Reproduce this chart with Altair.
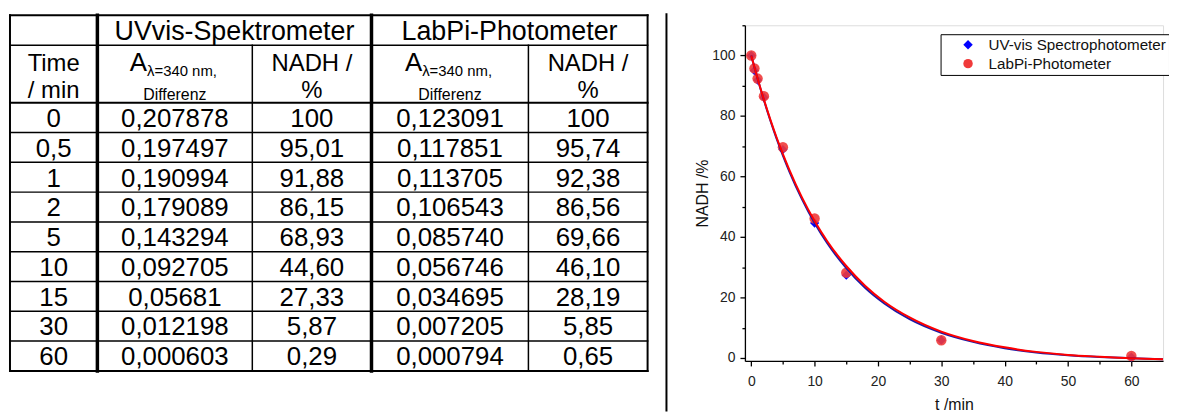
import altair as alt
import pandas as pd

# ---------------- data ----------------
times_lbl = ["0", "0,5", "1", "2", "5", "10", "15", "30", "60"]
times = [0, 0.5, 1, 2, 5, 10, 15, 30, 60]
uv_abs = ["0,207878", "0,197497", "0,190994", "0,179089", "0,143294",
          "0,092705", "0,05681", "0,012198", "0,000603"]
uv_nadh = [100, 95.01, 91.88, 86.15, 68.93, 44.60, 27.33, 5.87, 0.29]
uv_nadh_lbl = ["100", "95,01", "91,88", "86,15", "68,93", "44,60", "27,33", "5,87", "0,29"]
lab_abs = ["0,123091", "0,117851", "0,113705", "0,106543", "0,085740",
           "0,056746", "0,034695", "0,007205", "0,000794"]
lab_nadh = [100, 95.74, 92.38, 86.56, 69.66, 46.10, 28.19, 5.85, 0.65]
lab_nadh_lbl = ["100", "95,74", "92,38", "86,56", "69,66", "46,10", "28,19", "5,85", "0,65"]

# fitted curves
fit_t = [0, 1, 2, 3, 4, 5, 6, 8, 10, 12, 15, 18, 21, 25, 30, 35, 40, 45, 50, 55, 60, 65]
fit_uv = [100.0, 92.3, 85.2, 78.6, 72.5, 66.9, 61.7, 52.5, 44.6, 37.9, 29.7, 23.1, 18.0,
          12.8, 8.3, 5.3, 3.2, 1.8, 0.9, 0.3, -0.1, -0.4]
fit_lab = [100.0, 92.4, 85.4, 78.9, 72.9, 67.4, 62.3, 53.1, 45.3, 38.6, 30.4, 23.8, 18.6,
           13.4, 8.7, 5.6, 3.5, 2.0, 1.0, 0.4, -0.1, -0.4]

series_names = ["UV-vis Spectrophotometer", "LabPi-Photometer"]
group_titles = ["UVvis-Spektrometer", "LabPi-Photometer"]
head_time = ["Time", "/ min"]
head_nadh = ["NADH /", "%"]
head_abs_main = "A"
head_abs_sub = "\u03bb=340 nm,"
head_abs_sub2 = "Differenz"

# ---------------- layout ----------------
FONT = "Liberation Sans"
PLOT_X0, PLOT_Y0, PLOT_W, PLOT_H = 750, 24, 421, 338
COL = [10, 98, 254, 374, 532, 652]
DIV_X = 671
ROW0, ROW1, ROW2 = 14, 44, 102
ROW_H = 30
row_edges = [ROW2 + ROW_H * i for i in range(10)]
BOTTOM = row_edges[-1]
FS = 26
HS = 24
cols_c = [(COL[i] + COL[i + 1]) / 2 for i in range(5)]
row_c = [(row_edges[i] + row_edges[i + 1]) / 2 for i in range(9)]

tx = alt.Scale(domain=[PLOT_X0, PLOT_X0 + PLOT_W], nice=False, zero=False)
ty = alt.Scale(domain=[PLOT_Y0, PLOT_Y0 + PLOT_H], nice=False, zero=False, reverse=True)

# table grid lines
segs = []
def seg(x1, y1, x2, y2, w):
    segs.append(dict(x=x1, y=y1, x2=x2, y2=y2, w=w))

seg(COL[0], ROW0, COL[0], BOTTOM, 2)
seg(COL[1], ROW0, COL[1], BOTTOM, 3.5)
seg(COL[2], ROW1, COL[2], BOTTOM, 1.5)
seg(COL[3], ROW0, COL[3], BOTTOM, 3.5)
seg(COL[4], ROW1, COL[4], BOTTOM, 1.5)
seg(COL[5], ROW0, COL[5], BOTTOM, 2)
seg(DIV_X, 13, DIV_X, 412, 2)
seg(COL[0], ROW0, COL[5], ROW0, 2)
seg(COL[0], ROW1, COL[5], ROW1, 1.5)
seg(COL[0], ROW2, COL[5], ROW2, 2)
for e in row_edges[1:-1]:
    seg(COL[0], e, COL[5], e, 1.5)
seg(COL[0], BOTTOM, COL[5], BOTTOM, 2)
seg_df = pd.DataFrame(segs)

# table texts (centered)
cells = []
columns = [times_lbl, uv_abs, uv_nadh_lbl, lab_abs, lab_nadh_lbl]
for i in range(9):
    for j, col in enumerate(columns):
        cells.append(dict(x=cols_c[j], y=row_c[i] + 0.36 * FS, text=col[i], size=FS))
cells.append(dict(x=(COL[1] + COL[3]) / 2, y=39, text=group_titles[0], size=27))
cells.append(dict(x=(COL[3] + COL[5]) / 2, y=39, text=group_titles[1], size=27))
cells.append(dict(x=cols_c[0], y=70, text=head_time[0], size=HS))
cells.append(dict(x=cols_c[0], y=97, text=head_time[1], size=HS))
for j in (2, 4):
    cells.append(dict(x=cols_c[j], y=70, text=head_nadh[0], size=HS))
    cells.append(dict(x=cols_c[j], y=97, text=head_nadh[1], size=HS))
for j in (1, 3):
    cells.append(dict(x=cols_c[j], y=99, text=head_abs_sub2, size=16))
cell_df = pd.DataFrame(cells)
a_df = pd.DataFrame([dict(x=cols_c[j], y=70, text=head_abs_main, size=FS) for j in (1, 3)])
sub_df = pd.DataFrame([dict(x=cols_c[j], y=75, text=head_abs_sub, size=15) for j in (1, 3)])

tbl_x = alt.X("x:Q", scale=tx, axis=None)
tbl_y = alt.Y("y:Q", scale=ty, axis=None)

grid = alt.Chart(seg_df).mark_rule(color="black", strokeCap="square").encode(
    x=tbl_x, y=tbl_y, x2="x2:Q", y2="y2:Q",
    strokeWidth=alt.StrokeWidth("w:Q", scale=None))

def txt(df, align, dx=0):
    return alt.Chart(df).mark_text(font=FONT, align=align, baseline="alphabetic",
                                   color="black", dx=dx).encode(
        x=tbl_x, y=tbl_y, text="text:N", size=alt.Size("size:Q", scale=None))

table = alt.layer(grid, txt(cell_df, "center"), txt(a_df, "right", -28), txt(sub_df, "left", -28))

# ---------------- plot ----------------
pts_uv = pd.DataFrame(dict(t=times, v=uv_nadh, series=series_names[0]))
pts_lab = pd.DataFrame(dict(t=times, v=lab_nadh, series=series_names[1]))
uv_line = pd.DataFrame(dict(t=fit_t, v=fit_uv))
lab_line = pd.DataFrame(dict(t=fit_t, v=fit_lab))

xs = alt.Scale(domain=[-1, 65], nice=False, zero=False)
ys = alt.Scale(domain=[-1, 110], nice=False, zero=False)
common_axis = dict(grid=False, domainColor="black", tickColor="black", domainWidth=1.3,
                   tickWidth=1.3, labelFont=FONT, labelFontSize=14, labelColor="#222222",
                   titleFont=FONT, titleFontSize=16, titleFontWeight="normal",
                   titleColor="#111111")
xaxis = alt.Axis(orient="bottom", values=list(range(0, 61, 5)), title="t /min",
                 labelExpr="datum.value % 10 == 0 ? datum.label : ''",
                 tickSize={"condition": {"test": "datum.value % 10 == 0", "value": 5}, "value": 3},
                 labelPadding=9, titlePadding=8, **common_axis)
yaxis = alt.Axis(orient="left", values=list(range(0, 111, 10)), title="NADH /%",
                 labelExpr="datum.value % 20 == 0 ? datum.label : ''",
                 tickSize={"condition": {"test": "datum.value % 20 == 0", "value": 5}, "value": 3},
                 labelPadding=5, titlePadding=1, **common_axis)
px = alt.X("t:Q", scale=xs, axis=xaxis)
py = alt.Y("v:Q", scale=ys, axis=yaxis)

legend = alt.Legend(title=None, orient="none", legendX=197, legendY=9,
                    strokeColor="black", fillColor="white", padding=3,
                    labelFont=FONT, labelFontSize=15.3, labelColor="#111111",
                    labelLimit=400, symbolSize=90, rowPadding=3,
                    symbolOffset=17, labelOffset=13)
cscale = alt.Scale(domain=series_names, range=["#0000ff", "#f03a3a"])
sscale = alt.Scale(domain=series_names, range=["diamond", "circle"])

def pts_layer(df, size, opacity):
    return alt.Chart(df).mark_point(filled=True, strokeWidth=0, size=size, opacity=opacity).encode(
        x=px, y=py,
        color=alt.Color("series:N", scale=cscale, legend=legend),
        shape=alt.Shape("series:N", scale=sscale, legend=legend),
    )

l_uv = alt.Chart(uv_line).mark_line(color="#1a1aa8", strokeWidth=2, interpolate="monotone").encode(x=px, y=py)
l_lab = alt.Chart(lab_line).mark_line(color="#ff0000", strokeWidth=2, interpolate="monotone").encode(x=px, y=py)

plot = alt.layer(pts_layer(pts_uv, 85, 1.0), pts_layer(pts_lab, 110, 0.9), l_uv, l_lab)

chart = alt.layer(table, plot).resolve_scale(x="independent", y="independent").properties(
    width=PLOT_W, height=PLOT_H,
    autosize=alt.AutoSizeParams(type="none"),
    padding={"left": PLOT_X0 - 8, "top": PLOT_Y0 - 8, "right": 6, "bottom": 50},
).configure_view(stroke=None).configure(background="white")

chart.save("out.html", embed_options={"renderer": "svg", "actions": False})
